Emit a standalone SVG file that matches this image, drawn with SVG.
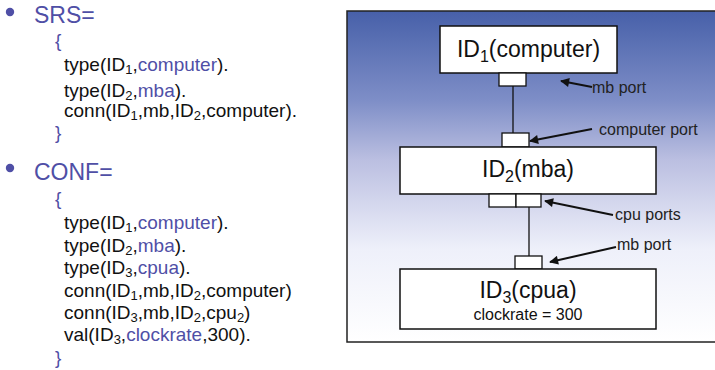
<svg xmlns="http://www.w3.org/2000/svg" width="715" height="370" viewBox="0 0 715 370">
  <style>
    .code { font-family: "Liberation Sans", Arial, sans-serif; font-size: 19px; fill: #111; }
    .head { font-family: "Liberation Sans", Arial, sans-serif; font-size: 23px; fill: #4f4fa6; }
    .kw { fill: #4f4fa6; }
    .sub { font-size: 13px; }
    .tsub { font-size: 16px; }
    .bullet { fill: #4f4fa6; }
    .node rect { fill: #fff; stroke: #111; stroke-width: 1.5; }
    .title { font-family: "Liberation Sans", Arial, sans-serif; font-size: 23px; fill: #111; text-anchor: middle; }
    .attr { font-family: "Liberation Sans", Arial, sans-serif; font-size: 16px; fill: #111; text-anchor: middle; }
    .node rect.port, .port { fill: #fff; stroke: #111; stroke-width: 1.3; }
    .wire { stroke: #111; stroke-width: 1.3; fill: none; }
    .pointer { stroke: #111; stroke-width: 2; fill: none; marker-end: url(#head); }
    .note { font-family: "Liberation Sans", Arial, sans-serif; font-size: 16px; fill: #222; }
  </style>
  <defs>
    <linearGradient id="panelFill" x1="0" y1="0" x2="0" y2="1">
      <stop offset="0" stop-color="#4760a9"/>
      <stop offset="0.27" stop-color="#7e8ec7"/>
      <stop offset="0.45" stop-color="#bbbfe1"/>
      <stop offset="0.72" stop-color="#eef0fa"/>
      <stop offset="1" stop-color="#ffffff"/>
    </linearGradient>
    <marker id="head" viewBox="0 0 10 10" refX="9" refY="5" markerWidth="5" markerHeight="4.5" orient="auto" markerUnits="strokeWidth">
      <path d="M0,0 L10,5 L0,10 Z" fill="#111"/>
    </marker>
  </defs>

  <!-- SRS listing -->
  <g id="srs">
    <circle class="bullet" cx="10" cy="12" r="4.2"/>
    <text class="head" x="34" y="23">SRS=</text>
    <text class="code kw" x="55" y="47">{</text>
    <text class="code" x="64" y="71">type(ID<tspan class="sub" dy="3">1</tspan><tspan dy="-3">,</tspan><tspan class="kw">computer</tspan>).</text>
    <text class="code" x="64" y="97">type(ID<tspan class="sub" dy="3">2</tspan><tspan dy="-3">,</tspan><tspan class="kw">mba</tspan>).</text>
    <text class="code" x="64" y="117">conn(ID<tspan class="sub" dy="3">1</tspan><tspan dy="-3">,mb,ID</tspan><tspan class="sub" dy="3">2</tspan><tspan dy="-3">,computer).</tspan></text>
    <text class="code kw" x="55" y="139">}</text>
  </g>

  <!-- CONF listing -->
  <g id="conf">
    <circle class="bullet" cx="10" cy="168" r="4.2"/>
    <text class="head" x="34" y="180">CONF=</text>
    <text class="code kw" x="55" y="205">{</text>
    <text class="code" x="64" y="229">type(ID<tspan class="sub" dy="3">1</tspan><tspan dy="-3">,</tspan><tspan class="kw">computer</tspan>).</text>
    <text class="code" x="64" y="252">type(ID<tspan class="sub" dy="3">2</tspan><tspan dy="-3">,</tspan><tspan class="kw">mba</tspan>).</text>
    <text class="code" x="64" y="274">type(ID<tspan class="sub" dy="3">3</tspan><tspan dy="-3">,</tspan><tspan class="kw">cpua</tspan>).</text>
    <text class="code" x="64" y="297">conn(ID<tspan class="sub" dy="3">1</tspan><tspan dy="-3">,mb,ID</tspan><tspan class="sub" dy="3">2</tspan><tspan dy="-3">,computer)</tspan></text>
    <text class="code" x="64" y="319">conn(ID<tspan class="sub" dy="3">3</tspan><tspan dy="-3">,mb,ID</tspan><tspan class="sub" dy="3">2</tspan><tspan dy="-3">,cpu</tspan><tspan class="sub" dy="3">2</tspan><tspan dy="-3">)</tspan></text>
    <text class="code" x="64" y="341">val(ID<tspan class="sub" dy="3">3</tspan><tspan dy="-3">,</tspan><tspan class="kw">clockrate</tspan>,300).</text>
    <text class="code kw" x="55" y="364">}</text>
  </g>

  <!-- configuration panel -->
  <rect id="panel" x="347" y="11" width="380" height="331" fill="url(#panelFill)" stroke="#222" stroke-width="1.5"/>

  <!-- wires between ports -->
  <g id="connectors">
    <line class="wire" x1="513" y1="86" x2="513" y2="133"/>
    <line class="wire" x1="529" y1="207" x2="529" y2="256"/>
  </g>

  <g id="node-id1" class="node">
    <rect x="440" y="26" width="177" height="47"/>
    <text class="title" x="528.5" y="57">ID<tspan class="tsub" dy="5">1</tspan><tspan dy="-5">(computer)</tspan></text>
    <rect class="port" x="499" y="73" width="27" height="13"/>
  </g>

  <g id="node-id2" class="node">
    <rect class="port" x="502" y="133" width="27" height="14"/>
    <rect x="400" y="147" width="256" height="47"/>
    <text class="title" x="528" y="177">ID<tspan class="tsub" dy="5">2</tspan><tspan dy="-5">(mba)</tspan></text>
    <rect class="port" x="489" y="194" width="27" height="13"/>
    <rect class="port" x="516" y="194" width="25" height="13"/>
  </g>

  <g id="node-id3" class="node">
    <rect class="port" x="515" y="256" width="27" height="13"/>
    <rect x="400" y="269" width="256" height="60"/>
    <text class="title" x="528" y="298">ID<tspan class="tsub" dy="5">3</tspan><tspan dy="-5">(cpua)</tspan></text>
    <text class="attr" x="528" y="320">clockrate = 300</text>
  </g>

  <!-- port callouts -->
  <g id="callouts">
    <line class="pointer" x1="592" y1="87" x2="561" y2="81"/>
    <text class="note" x="592" y="93">mb port</text>
    <line class="pointer" x1="592" y1="129" x2="530" y2="141"/>
    <text class="note" x="599" y="135">computer port</text>
    <line class="pointer" x1="613" y1="215" x2="545" y2="201"/>
    <text class="note" x="615" y="220">cpu ports</text>
    <line class="pointer" x1="616" y1="247" x2="550" y2="262"/>
    <text class="note" x="617" y="250">mb port</text>
  </g>
</svg>
